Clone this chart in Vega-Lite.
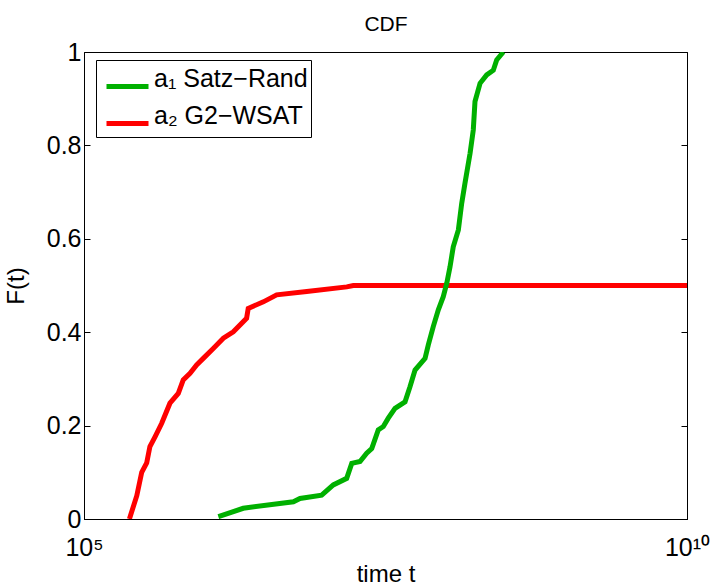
{
  "$schema": "https://vega.github.io/schema/vega-lite/v6.json",
  "width": 603,
  "height": 467,
  "autosize": {"type": "none"},
  "padding": {"left": 84, "top": 52, "right": 28, "bottom": 67},
  "background": "white",
  "config": {
    "font": "Liberation Sans",
    "view": {"stroke": "black", "strokeWidth": 1},
    "axis": {"grid": false, "domainColor": "black", "tickColor": "black", "labelColor": "black", "titleColor": "black", "labelFont": "Liberation Sans", "titleFont": "Liberation Sans", "titleFontWeight": "normal"}
  },
  "data": {
    "values": [
      {"t": 2.38e5, "F": 0.0, "s": "a₂ G2−WSAT"},
      {"t": 2.74e5, "F": 0.05, "s": "a₂ G2−WSAT"},
      {"t": 3.01e5, "F": 0.10, "s": "a₂ G2−WSAT"},
      {"t": 3.31e5, "F": 0.12, "s": "a₂ G2−WSAT"},
      {"t": 3.52e5, "F": 0.155, "s": "a₂ G2−WSAT"},
      {"t": 3.88e5, "F": 0.176, "s": "a₂ G2−WSAT"},
      {"t": 4.41e5, "F": 0.205, "s": "a₂ G2−WSAT"},
      {"t": 5.16e5, "F": 0.248, "s": "a₂ G2−WSAT"},
      {"t": 6.05e5, "F": 0.269, "s": "a₂ G2−WSAT"},
      {"t": 6.65e5, "F": 0.298, "s": "a₂ G2−WSAT"},
      {"t": 7.57e5, "F": 0.312, "s": "a₂ G2−WSAT"},
      {"t": 8.59e5, "F": 0.33, "s": "a₂ G2−WSAT"},
      {"t": 9.75e5, "F": 0.344, "s": "a₂ G2−WSAT"},
      {"t": 1.18e6, "F": 0.365, "s": "a₂ G2−WSAT"},
      {"t": 1.43e6, "F": 0.387, "s": "a₂ G2−WSAT"},
      {"t": 1.73e6, "F": 0.401, "s": "a₂ G2−WSAT"},
      {"t": 2.23e6, "F": 0.43, "s": "a₂ G2−WSAT"},
      {"t": 2.30e6, "F": 0.451, "s": "a₂ G2−WSAT"},
      {"t": 3.07e6, "F": 0.465, "s": "a₂ G2−WSAT"},
      {"t": 3.96e6, "F": 0.48, "s": "a₂ G2−WSAT"},
      {"t": 7.03e6, "F": 0.487, "s": "a₂ G2−WSAT"},
      {"t": 1.51e7, "F": 0.497, "s": "a₂ G2−WSAT"},
      {"t": 1.71e7, "F": 0.5, "s": "a₂ G2−WSAT"},
      {"t": 1e10, "F": 0.5, "s": "a₂ G2−WSAT"},
      {"t": 1.30e6, "F": 0.005, "s": "a₁ Satz−Rand"},
      {"t": 2.09e6, "F": 0.023, "s": "a₁ Satz−Rand"},
      {"t": 5.45e6, "F": 0.037, "s": "a₁ Satz−Rand"},
      {"t": 6.18e6, "F": 0.044, "s": "a₁ Satz−Rand"},
      {"t": 9.35e6, "F": 0.051, "s": "a₁ Satz−Rand"},
      {"t": 1.167e7, "F": 0.073, "s": "a₁ Satz−Rand"},
      {"t": 1.507e7, "F": 0.087, "s": "a₁ Satz−Rand"},
      {"t": 1.66e7, "F": 0.119, "s": "a₁ Satz−Rand"},
      {"t": 1.945e7, "F": 0.123, "s": "a₁ Satz−Rand"},
      {"t": 2.208e7, "F": 0.141, "s": "a₁ Satz−Rand"},
      {"t": 2.432e7, "F": 0.151, "s": "a₁ Satz−Rand"},
      {"t": 2.754e7, "F": 0.191, "s": "a₁ Satz−Rand"},
      {"t": 3.034e7, "F": 0.198, "s": "a₁ Satz−Rand"},
      {"t": 3.334e7, "F": 0.216, "s": "a₁ Satz−Rand"},
      {"t": 3.793e7, "F": 0.237, "s": "a₁ Satz−Rand"},
      {"t": 4.592e7, "F": 0.251, "s": "a₁ Satz−Rand"},
      {"t": 5.047e7, "F": 0.283, "s": "a₁ Satz−Rand"},
      {"t": 5.559e7, "F": 0.319, "s": "a₁ Satz−Rand"},
      {"t": 6.73e7, "F": 0.344, "s": "a₁ Satz−Rand"},
      {"t": 7.161e7, "F": 0.373, "s": "a₁ Satz−Rand"},
      {"t": 7.87e7, "F": 0.412, "s": "a₁ Satz−Rand"},
      {"t": 8.67e7, "F": 0.448, "s": "a₁ Satz−Rand"},
      {"t": 9.528e7, "F": 0.476, "s": "a₁ Satz−Rand"},
      {"t": 1.019e8, "F": 0.505, "s": "a₁ Satz−Rand"},
      {"t": 1.084e8, "F": 0.54, "s": "a₁ Satz−Rand"},
      {"t": 1.153e8, "F": 0.583, "s": "a₁ Satz−Rand"},
      {"t": 1.271e8, "F": 0.619, "s": "a₁ Satz−Rand"},
      {"t": 1.355e8, "F": 0.676, "s": "a₁ Satz−Rand"},
      {"t": 1.442e8, "F": 0.719, "s": "a₁ Satz−Rand"},
      {"t": 1.589e8, "F": 0.783, "s": "a₁ Satz−Rand"},
      {"t": 1.69e8, "F": 0.833, "s": "a₁ Satz−Rand"},
      {"t": 1.746e8, "F": 0.894, "s": "a₁ Satz−Rand"},
      {"t": 1.923e8, "F": 0.933, "s": "a₁ Satz−Rand"},
      {"t": 2.183e8, "F": 0.951, "s": "a₁ Satz−Rand"},
      {"t": 2.477e8, "F": 0.961, "s": "a₁ Satz−Rand"},
      {"t": 2.642e8, "F": 0.983, "s": "a₁ Satz−Rand"},
      {"t": 3.0e8, "F": 1.0, "s": "a₁ Satz−Rand"}
    ]
  },
  "layer": [
    {
      "mark": {"type": "line", "strokeWidth": 5, "clip": true, "interpolate": "linear"},
      "encoding": {
        "x": {
          "field": "t", "type": "quantitative",
          "scale": {"type": "log", "domain": [1e5, 1e10], "nice": false},
          "axis": {"values": [1e5, 1e10], "labelExpr": "datum.value < 1e6 ? '10⁵' : '10¹⁰'", "labelFontSize": 25, "tickSize": -6, "labelPadding": 22, "title": "time t", "titleFontSize": 24, "titlePadding": 2, "labelFlush": false}
        },
        "y": {
          "field": "F", "type": "quantitative",
          "scale": {"domain": [0, 1], "nice": false},
          "axis": {"values": [0, 0.2, 0.4, 0.6, 0.8, 1], "format": ".1~f", "labelFontSize": 25, "tickSize": -6, "labelPadding": 9, "title": "F(t)", "titleFontSize": 24, "titlePadding": 18, "labelFlush": false}
        },
        "color": {
          "field": "s", "type": "nominal",
          "scale": {"domain": ["a₁ Satz−Rand", "a₂ G2−WSAT"], "range": ["#00b000", "#ff0000"]},
          "legend": {
            "title": null, "orient": "none", "legendX": 12, "legendY": 8,
            "symbolType": "stroke", "symbolSize": 1764, "symbolStrokeWidth": 5,
            "labelFontSize": 25, "labelFont": "Liberation Sans", "labelColor": "black", "labelBaseline": "alphabetic",
            "labelOffset": 3, "symbolOffset": 5, "rowPadding": 3, "padding": 3,
            "strokeColor": "black", "fillColor": "white", "cornerRadius": 0, "labelLimit": 400
          }
        }
      }
    },
    {
      "mark": {"type": "point", "opacity": 0},
      "encoding": {
        "x": {
          "field": "t", "type": "quantitative",
          "scale": {"type": "log", "domain": [1e5, 1e10], "nice": false},
          "axis": {"orient": "top", "labels": false, "ticks": false, "domain": false, "title": "CDF", "titleFontSize": 21, "titlePadding": 18}
        },
        "y": {
          "field": "F", "type": "quantitative",
          "scale": {"domain": [0, 1], "nice": false},
          "axis": {"orient": "right", "values": [0, 0.2, 0.4, 0.6, 0.8, 1], "labels": false, "tickSize": -6, "title": null}
        }
      }
    }
  ],
  "resolve": {"axis": {"y": "independent", "x": "independent"}}
}
